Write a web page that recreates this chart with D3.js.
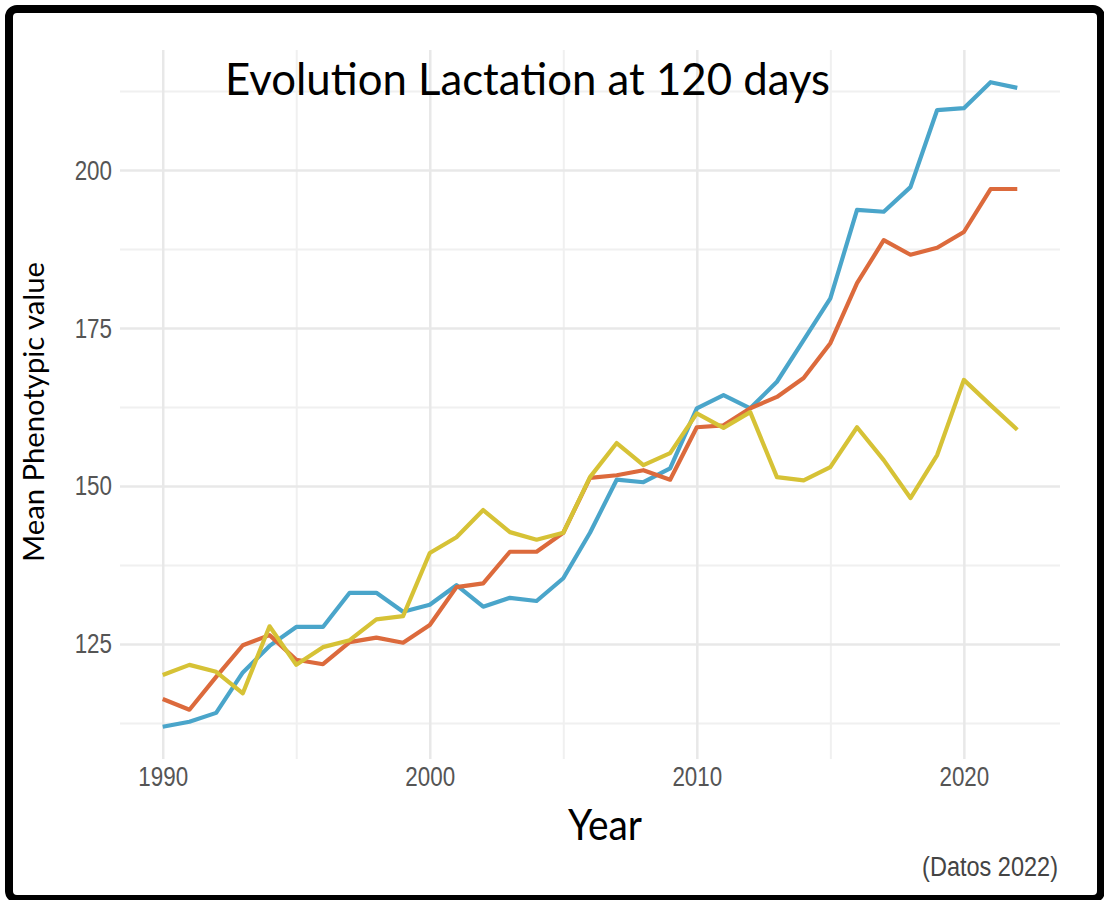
<!DOCTYPE html>
<html>
<head>
<meta charset="utf-8">
<script src="https://cdn.jsdelivr.net/npm/d3@7"></script>
<style>
  html, body { margin: 0; padding: 0; background: #fff; }
  svg { display: block; }
  .tick text, .caption { transform-box: fill-box; }
  .y-labels .tick text { transform-origin: right center; transform: scaleX(0.8); }
  .x-labels .tick text { transform-origin: center center; transform: scaleX(0.8); }
  .caption { transform-origin: right center; transform: scaleX(0.84); }
</style>
</head>
<body>
<svg id="chart" width="1104" height="900"></svg>
<script>
// ---- data ----
const years = d3.range(1990, 2023);
const blueValues = [111.9, 112.7, 114.1, 120.5, 124.7, 127.7, 127.7, 133.1, 133.1, 130.1,
  131.2, 134.3, 130.9, 132.3, 131.8, 135.4, 142.6, 151.0, 150.6, 152.8,
  162.3, 164.4, 162.3, 166.5, 173.1, 179.7, 193.7, 193.4, 197.3, 209.5,
  209.8, 213.9, 213.0];
const orangeValues = [116.3, 114.6, 119.8, 124.8, 126.4, 122.5, 121.8, 125.3, 126.0, 125.2,
  128.0, 134.0, 134.6, 139.6, 139.6, 142.6, 151.3, 151.7, 152.5, 151.0,
  159.3, 159.6, 162.3, 164.1, 167.1, 172.6, 182.1, 188.9, 186.6, 187.7,
  190.2, 197.0, 197.0];
const yellowValues = [120.1, 121.7, 120.6, 117.2, 127.8, 121.7, 124.5, 125.6, 128.9, 129.4,
  139.4, 141.9, 146.2, 142.7, 141.5, 142.6, 151.4, 156.8, 153.3, 155.2,
  161.5, 159.2, 161.7, 151.4, 150.9, 153.0, 159.3, 154.1, 148.1, 154.9,
  166.8, 162.8, 158.9];
const xTickValues = [1990, 2000, 2010, 2020];
const xMinorValues = [1995, 2005, 2015];
const yTickValues = [125, 150, 175, 200];
const yMinorValues = [112.5, 137.5, 162.5, 187.5, 212.5];
const seriesNames = ["blue", "orange", "yellow"];
const seriesColors = ["#4aa5ca", "#dc6a3c", "#d6c236"];
const titleText = "Evolution Lactation at 120 days";
const xTitle = "Year";
const yTitle = "Mean Phenotypic value";
const captionText = "(Datos 2022)";

// ---- layout ----
const svg = d3.select("#chart");
const panel = { left: 120, right: 1060, top: 50, bottom: 759 };
const x = d3.scaleLinear().domain([1988.4, 2023.6]).range([panel.left, panel.right]);
const y = d3.scaleLinear().domain([106.8, 219]).range([panel.bottom, panel.top]);

// gridlines
const gMinorY = svg.append("g").attr("transform", `translate(${panel.left},0)`)
  .call(d3.axisLeft(y).tickValues(yMinorValues).tickSize(-(panel.right - panel.left)).tickFormat(""));
const gMinorX = svg.append("g").attr("transform", `translate(0,${panel.bottom})`)
  .call(d3.axisBottom(x).tickValues(xMinorValues).tickSize(-(panel.bottom - panel.top)).tickFormat(""));
[gMinorY, gMinorX].forEach(g => {
  g.select(".domain").remove();
  g.selectAll("line").attr("stroke", "#f0f0f0").attr("stroke-width", 2);
});
const gMajorY = svg.append("g").attr("transform", `translate(${panel.left},0)`)
  .call(d3.axisLeft(y).tickValues(yTickValues).tickSize(-(panel.right - panel.left)).tickFormat(""));
const gMajorX = svg.append("g").attr("transform", `translate(0,${panel.bottom})`)
  .call(d3.axisBottom(x).tickValues(xTickValues).tickSize(-(panel.bottom - panel.top)).tickFormat(""));
[gMajorY, gMajorX].forEach(g => {
  g.select(".domain").remove();
  g.selectAll("line").attr("stroke", "#e8e8e8").attr("stroke-width", 2.5);
});

// axis labels
const yAxis = svg.append("g").attr("class", "y-labels").attr("transform", `translate(${panel.left},0)`)
  .call(d3.axisLeft(y).tickValues(yTickValues).tickSize(0).tickPadding(8).tickFormat(d3.format("d")));
const xAxis = svg.append("g").attr("class", "x-labels").attr("transform", `translate(0,${panel.bottom})`)
  .call(d3.axisBottom(x).tickValues(xTickValues).tickSize(0).tickPadding(7).tickFormat(d3.format("d")));
[yAxis, xAxis].forEach(g => {
  g.select(".domain").remove();
  g.selectAll("text")
    .attr("fill", "#555")
    .style("font-family", "'Liberation Sans', Arial, sans-serif")
    .style("font-size", "28px");
});

// lines
const line = d3.line().x((d, i) => x(years[i])).y(d => y(d));
[blueValues, orangeValues, yellowValues].forEach((vals, k) => {
  svg.append("path")
    .datum(vals)
    .attr("class", "series-" + seriesNames[k])
    .attr("fill", "none")
    .attr("stroke", seriesColors[k])
    .attr("stroke-width", 4.2)
    .attr("stroke-linejoin", "round")
    .attr("d", line);
});

// titles
svg.append("text")
  .attr("x", 225).attr("y", 95)
  .attr("textLength", 605).attr("lengthAdjust", "spacingAndGlyphs")
  .style("font-family", "Lato, 'Open Sans', sans-serif")
  .style("font-size", "45px")
  .attr("fill", "#000")
  .text(titleText);

svg.append("text")
  .attr("x", 605).attr("y", 840)
  .attr("text-anchor", "middle")
  .attr("textLength", 74).attr("lengthAdjust", "spacingAndGlyphs")
  .style("font-family", "Lato, 'Open Sans', sans-serif")
  .style("font-size", "43px")
  .attr("fill", "#000")
  .text(xTitle);

svg.append("text")
  .attr("transform", "translate(44,412) rotate(-90)")
  .attr("text-anchor", "middle")
  .attr("textLength", 300).attr("lengthAdjust", "spacingAndGlyphs")
  .style("font-family", "Lato, 'Open Sans', sans-serif")
  .style("font-size", "28px")
  .attr("fill", "#000")
  .text(yTitle);

svg.append("text")
  .attr("class", "caption")
  .attr("x", 1058).attr("y", 876)
  .attr("text-anchor", "end")
  .style("font-family", "'Liberation Sans', Arial, sans-serif")
  .style("font-size", "28px")
  .attr("fill", "#444")
  .text(captionText);

// frame
svg.append("rect")
  .attr("x", 9).attr("y", 9)
  .attr("width", 1092).attr("height", 890)
  .attr("rx", 8)
  .attr("fill", "none")
  .attr("stroke", "#000")
  .attr("stroke-width", 8);
</script>
</body>
</html>
